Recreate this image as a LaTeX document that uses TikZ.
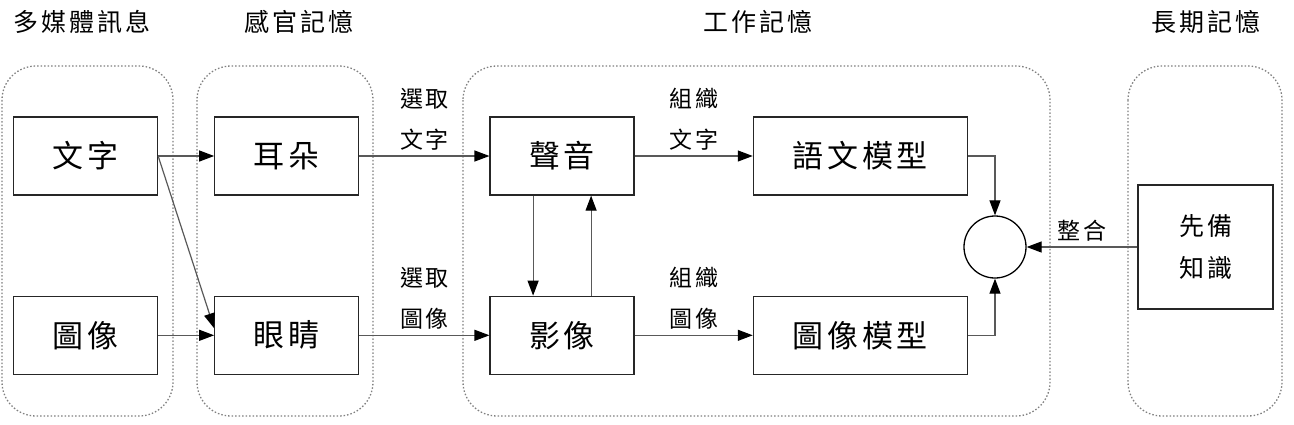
\documentclass[tikz,border=0pt]{standalone}
\usepackage{fontspec}
\newfontfamily\cjk[LetterSpace=12]{Noto Sans CJK TC}
\usetikzlibrary{arrows.meta,positioning}

\begin{document}
\begin{tikzpicture}[
  x=1pt, y=-1pt, node distance=56pt,
  box/.style={draw=black!85, line width=1.3pt, minimum width=144pt, minimum height=78pt, inner sep=0pt, font=\cjk\fontsize{31}{34}\selectfont},
  group/.style={draw=gray, line width=1.3pt, dash pattern=on 1.5pt off 2pt, rounded corners=34pt},
  head/.style={font=\cjk\fontsize{25}{28}\selectfont},
  lab/.style={font=\cjk\fontsize{23}{41}\selectfont, align=center, inner sep=5pt},
  flow/.style={-{Triangle[length=15pt, width=11pt, color=black]}, line width=1.2pt, draw=gray!70!black},
]
  \useasboundingbox (0,0) rectangle (1294,424);
  \draw[group] (2,66) rectangle (173,416);
  \draw[group] (197,66) rectangle (373,416);
  \draw[group] (463,66) rectangle (1050,416);
  \draw[group] (1128,66) rectangle (1282,416);
  \node[head] at (82,22) {多媒體訊息};
  \node[head] at (299,22) {感官記憶};
  \node[head] at (758,22) {工作記憶};
  \node[head] at (1206,22) {長期記憶};
  \node[box] (txt) at (85.5,156) {文字};
  \node[box, below=100pt of txt] (pic) {圖像};
  \node[box, right=of txt] (ear) {耳朵};
  \node[box, right=of pic] (eye) {眼睛};
  \node[box, right=130pt of ear] (snd) {聲音};
  \node[box, right=130pt of eye] (img) {影像};
  \node[box, right=118pt of snd, minimum width=214pt] (vmod) {語文模型};
  \node[box, right=118pt of img, minimum width=214pt] (pmod) {圖像模型};
  \node[draw, circle, line width=1.3pt, minimum size=62pt] (integ) at (995,247) {};
  \node[box, minimum width=135pt, minimum height=124pt, align=center, font=\cjk\fontsize{25}{42}\selectfont] (prior) at (1205.5,247) {先備\\知識};
  \draw[flow] (txt.east) -- (ear.west);
  \draw[flow] (txt.east) -- ([yshift=7pt]eye.west);
  \draw[flow] (pic.east) -- (eye.west);
  \draw[flow] (ear.east) -- node[lab, above]{選取\\文字} (snd.west);
  \draw[flow] (eye.east) -- node[lab, above]{選取\\圖像} (img.west);
  \draw[flow] (snd.east) -- node[lab, above]{組織\\文字} (vmod.west);
  \draw[flow] (img.east) -- node[lab, above]{組織\\圖像} (pmod.west);
  \draw[flow] ([xshift=-29pt]snd.south) -- ([xshift=-29pt]img.north);
  \draw[flow] ([xshift=29pt]img.north) -- ([xshift=29pt]snd.south);
  \draw[flow] (vmod.east) -| (integ.north);
  \draw[flow] (pmod.east) -| (integ.south);
  \draw[flow] (prior.west) -- node[lab, above]{整合} (integ.east);
\end{tikzpicture}
\end{document}
